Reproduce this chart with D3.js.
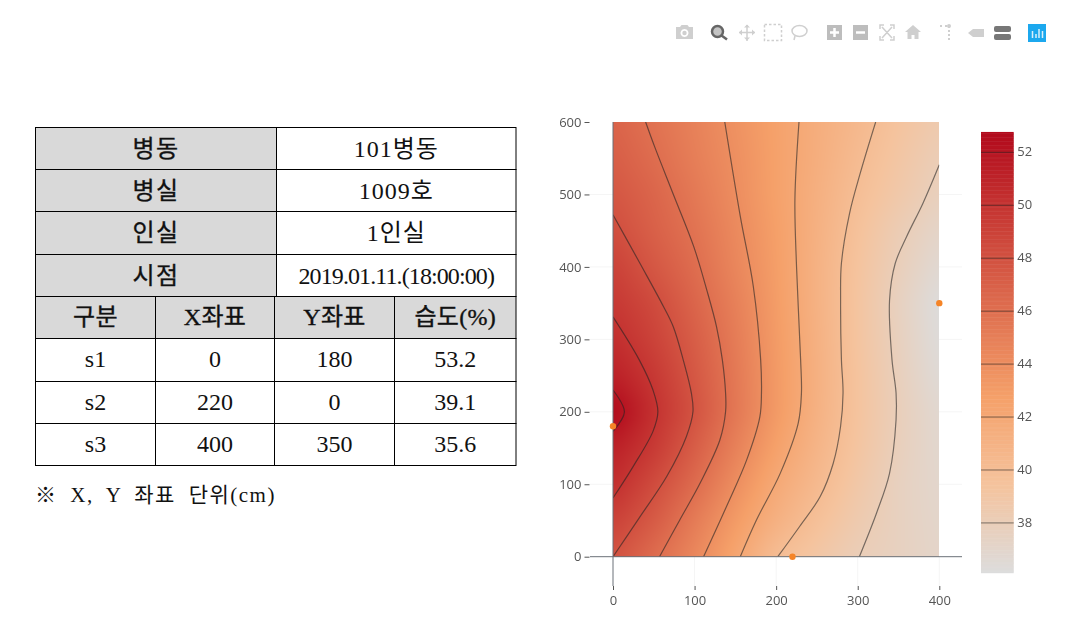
<!DOCTYPE html>
<html><head><meta charset="utf-8">
<script src="https://cdn.jsdelivr.net/npm/d3@7"></script>
<style>
html,body{margin:0;padding:0;background:#fff}
#wrap{position:relative;width:1082px;height:626px;overflow:hidden}
canvas{position:absolute;left:0;top:0}
svg{position:absolute;left:0;top:0}
</style></head><body><div id="wrap"></div>
<script>
// ---- table content ----
const infoLabels = ["병동","병실","인실","시점"];
const infoValues = ["101병동","1009호","1인실","2019.01.11.(18:00:00)"];
const sensorHeader = ["구분","X좌표","Y좌표","습도(%)"];
const sensorNames = ["s1","s2","s3"];
const sensorX = [0,220,400];
const sensorY = [180,0,350];
const sensorHumidity = ["53.2","39.1","35.6"];
const footnote = "※ X, Y 좌표 단위(cm)";

// ---- heatmap field ----
const gridX = [0,50,100,150,200,250,300,350,400];
const gridY = [0,50,100,150,200,250,300,350,400,450,500,550,600];
const gridZ = [
 [48.0,46.2,44.4,42.3,39.95,39.0,38.0,37.6,37.1],
 [49.1,47.4,45.2,43.1,41.2,39.75,38.5,37.6,37.0],
 [50.4,48.4,46.3,44.0,41.9,40.4,38.9,37.6,36.9],
 [51.3,49.6,47.2,44.85,42.65,40.85,39.25,37.8,36.8],
 [53.0,50.2,47.95,45.5,43.2,41.15,39.4,37.9,36.7],
 [51.3,49.7,47.6,45.4,43.2,41.25,39.4,37.8,36.4],
 [50.4,49.0,47.2,45.2,43.1,41.2,39.3,37.7,36.2],
 [49.7,48.5,46.7,44.9,43.0,41.1,39.3,37.6,36.1],
 [49.1,47.6,46.2,44.5,42.9,41.1,39.4,37.9,36.6],
 [48.3,47.0,45.8,44.3,42.8,41.2,39.6,38.2,37.1],
 [47.7,46.7,45.4,44.05,42.65,41.3,39.9,38.8,37.7],
 [47.2,46.2,45.0,43.9,42.65,41.45,40.2,39.1,38.05],
 [46.8,45.8,44.8,43.7,42.6,41.5,40.5,39.4,38.5]
];

// ---- contour lines, [x,y] ----
const contourLevels = [38,40,42,44,46,48,50,52];
const contour38 = [[400,541],[380,488],[360,442],[346,405],[339,354],[342,272],[347,226],[347,189],[339,115],[323,60],[302,0]];
const contour40 = [[322,600],[303,529],[290,474],[280,405],[279,354],[280,272],[282,226],[279,180],[270,129],[254,83],[229,42],[202,0]];
const contour42 = [[228,600],[223,493],[225,400],[230,272],[231,226],[227,184],[205,115],[176,51],[156,0]];
const contour44 = [[137,600],[156,470],[172,373],[181,272],[182,226],[180,193],[164,134],[139,69],[111,0]];
const contour46 = [[40,600],[51,566],[74,500],[99,428],[115,368],[127,317],[134,272],[138,226],[138,200],[131,161],[107,102],[82,51],[57,0]];
const contour48 = [[0,472],[33,405],[62,345],[74,317],[86,272],[96,226],[98,200],[90,166],[66,111],[33,55],[0,0]];
const contour50 = [[0,331],[32,272],[49,230],[55,200],[49,173],[25,125],[0,81]];
const contour52 = [[0,230],[14,200],[0,173]];
const contourLines = [contour38,contour40,contour42,contour44,contour46,contour48,contour50,contour52];

// ---- axes ----
const xTicks = [0,100,200,300,400];
const yTicks = [0,100,200,300,400,500,600];
const zMin = 36.12, zMax = 52.73;
const redsStops = [0,0.2,0.4,1];
const redsColors = ["rgb(220,220,220)","rgb(245,195,157)","rgb(245,160,105)","rgb(178,10,28)"];

const W=1082,H=626;
const wrap=d3.select("#wrap");
const x=d3.scaleLinear().domain([0,400]).range([613,939.3]);
const y=d3.scaleLinear().domain([0,600]).range([556.7,122]);
const zy=d3.scaleLinear().domain([zMin,zMax]).range([572.7,133]);
const zNorm=d3.scaleLinear().domain([zMin,zMax]).range([0,1]).clamp(true);
const ramp=d3.scaleLinear().domain(redsStops).range(redsColors).interpolate(d3.interpolateRgb);
const col=v=>ramp(zNorm(v));

const svg=wrap.append("svg").attr("width",W).attr("height",H);
const defs=svg.append("defs");
defs.append("clipPath").attr("id","plot").append("rect")
  .attr("x",x(0)).attr("y",y(600)).attr("width",x(400)-x(0)).attr("height",y(0)-y(600));
defs.append("filter").attr("id","soft").append("feGaussianBlur").attr("stdDeviation",0.35);

// ---- table ----
const serif='"Liberation Serif","Noto Sans CJK KR",serif';
const tbl=svg.append("g").attr("font-family",serif).attr("fill","#111").attr("text-anchor","middle");
const rowEdges=[127.5,169.5,211.5,254.5,296.5,338.5,381.5,423.5,465.5];
const infoEdges=[35.5,276.5,516];
const colEdges=[35.5,155.5,274.5,394.5,516];
function cell(x0,x1,y0,y1,txt,head,ls,dy){
  tbl.append("rect").attr("x",x0).attr("y",y0).attr("width",x1-x0).attr("height",y1-y0)
    .attr("fill",head?"#d9d9d9":"#fff").attr("stroke","#000").attr("stroke-width",1);
  tbl.append("text").attr("x",(x0+x1)/2).attr("y",(y0+y1)/2+dy)
    .attr("font-size",24).attr("font-weight",400)
    .attr("stroke",head?"#111":"none").attr("stroke-width",head?0.35:0)
    .attr("letter-spacing",ls||0).text(txt);
}
infoLabels.forEach((l,i)=>{
  cell(infoEdges[0],infoEdges[1],rowEdges[i],rowEdges[i+1],l,true,1.5,8);
  cell(infoEdges[1],infoEdges[2],rowEdges[i],rowEdges[i+1],infoValues[i],false,i==3?-0.9:1,8);
});
sensorHeader.forEach((h,c)=>cell(colEdges[c],colEdges[c+1],rowEdges[4],rowEdges[5],h,true,0.3,7));
sensorNames.forEach((n,r)=>{
  [n,sensorX[r],sensorY[r],sensorHumidity[r]].forEach((v,c)=>
    cell(colEdges[c],colEdges[c+1],rowEdges[5+r],rowEdges[6+r],v,false,0,7));
});
svg.append("text").attr("x",35).attr("y",502).attr("font-family",serif).attr("font-size",21)
  .attr("fill","#111").attr("letter-spacing",1.5).attr("word-spacing",6).text(footnote);

// ---- grid ----
const grid=svg.append("g").attr("stroke","#f5f5f5").attr("stroke-width",1);
grid.selectAll(".gy").data(yTicks.filter(d=>d>0&&d<600)).join("line")
  .attr("x1",590).attr("x2",962).attr("y1",d=>y(d)).attr("y2",d=>y(d));
grid.selectAll(".gx").data(xTicks.filter(d=>d>0)).join("line")
  .attr("x1",d=>x(d)).attr("x2",d=>x(d)).attr("y1",y(0)).attr("y2",586);

// ---- heatmap ----
function field(dx,dy){
  dx=Math.max(0,Math.min(400,dx)); dy=Math.max(0,Math.min(600,dy));
  const i=Math.min(gridX.length-2,d3.bisectRight(gridX,dx)-1);
  const j=Math.min(gridY.length-2,d3.bisectRight(gridY,dy)-1);
  const tx=(dx-gridX[i])/(gridX[i+1]-gridX[i]), ty=(dy-gridY[j])/(gridY[j+1]-gridY[j]);
  return (1-ty)*((1-tx)*gridZ[j][i]+tx*gridZ[j][i+1])+ty*((1-tx)*gridZ[j+1][i]+tx*gridZ[j+1][i+1]);
}
const hmW=Math.round(x(400)-x(0)), hmH=Math.round(y(0)-y(600));
const fo=svg.append("foreignObject").attr("x",Math.round(x(0))).attr("y",Math.round(y(600)))
  .attr("width",hmW).attr("height",hmH);
const hm=document.createElement("canvas");
hm.width=hmW; hm.height=hmH;
const ctx=hm.getContext("2d");
const spread=[-12,0,12];
for(let py=0;py<hmH;py++){
  for(let px=0;px<hmW;px++){
    const dx=x.invert(px+Math.round(x(0))+.5), dy=y.invert(py+Math.round(y(600))+.5);
    let s=0;
    spread.forEach(a=>spread.forEach(b=>{s+=field(dx+a,dy+b);}));
    ctx.fillStyle=col(s/9);
    ctx.fillRect(px,py,1,1);
  }
}
fo.node().appendChild(hm);

// ---- contours ----
const line=d3.line().x(d=>x(d[0])).y(d=>y(d[1])).curve(d3.curveCatmullRom.alpha(0.5));
const lineColor=v=>d3.interpolateRgb(col(v),"#222")(0.58);
svg.append("g").attr("clip-path","url(#plot)").selectAll("path").data(contourLines).join("path")
  .attr("d",line).attr("fill","none").attr("stroke",(d,i)=>lineColor(contourLevels[i])).attr("stroke-width",1.2);

// ---- zero lines ----
svg.append("line").attr("x1",x(0)).attr("x2",x(0)).attr("y1",y(600)).attr("y2",586).attr("stroke","#6b7078").attr("stroke-width",1);
svg.append("line").attr("x1",590).attr("x2",962).attr("y1",y(0)).attr("y2",y(0)).attr("stroke","#6b7078").attr("stroke-width",1);

// ---- axes ----
const axFont='"Open Sans",sans-serif';
const gy=svg.append("g").attr("transform","translate(589.5,0)")
  .call(d3.axisLeft(y).tickValues(yTicks).tickSize(5).tickPadding(3));
const gx=svg.append("g").attr("transform","translate(0,586)")
  .call(d3.axisBottom(x).tickValues(xTicks).tickSize(4).tickPadding(6));
[gx,gy].forEach(g=>{
  g.select(".domain").remove();
  g.selectAll("line").attr("stroke","#555");
  g.selectAll("text").attr("font-family",axFont).attr("font-size",13).attr("fill","#555");
});

// ---- sensors ----
svg.append("g").selectAll("circle").data(sensorX).join("circle")
  .attr("cx",d=>x(d)).attr("cy",(d,i)=>y(sensorY[i])).attr("r",3.2).attr("fill","#f58427");

// ---- colour bar ----
const barX=981,barW=32.7;
const barVals=d3.range(zMin,zMax,0.05);
svg.append("g").selectAll("rect").data(barVals).join("rect")
  .attr("x",barX).attr("width",barW).attr("y",d=>zy(d+0.05)).attr("height",d=>zy(d)-zy(d+0.05)+0.5)
  .attr("fill",d=>col(d));
svg.append("g").selectAll("line").data(contourLevels).join("line")
  .attr("x1",barX).attr("x2",barX+barW).attr("y1",d=>zy(d)).attr("y2",d=>zy(d))
  .attr("stroke",d=>lineColor(d)).attr("stroke-width",1);
const gz=svg.append("g").attr("transform",`translate(${barX+barW},-1)`)
  .call(d3.axisRight(zy).tickValues(contourLevels).tickSize(0).tickPadding(3.5));
gz.select(".domain").remove();
gz.selectAll("text").attr("font-family",axFont).attr("font-size",13).attr("fill","#555");

// ---- mode bar ----
const ic=svg.append("g").attr("filter","url(#soft)");
const g1="#cfcfcf", g2="#bdbdbd";
ic.append("path").attr("fill",g1).attr("fill-rule","evenodd")
  .attr("d","M676 27h4l1.500-2h6l1.500 2h4v12h-17zM684.500 29a4 4 0 1 0 .01 0z");
ic.append("circle").attr("cx",684.500).attr("cy",33).attr("r",2.200).attr("fill",g1);
ic.append("circle").attr("cx",717.500).attr("cy",31.500).attr("r",5.500).attr("fill","#c4c4c4").attr("stroke","#666").attr("stroke-width",2.500);
ic.append("line").attr("x1",721.500).attr("y1",35.500).attr("x2",727).attr("y2",39.500).attr("stroke","#666").attr("stroke-width",2.500);
ic.append("path").attr("stroke",g1).attr("stroke-width",1.500).attr("fill","none").attr("d","M739 32.500h16M747 25v16");
ic.append("path").attr("fill",g1).attr("d","M739 32.500l3-3v6zM755 32.500l-3-3v6zM747 24.500l-3 3h6zM747 40.500l-3-3h6z");
ic.append("rect").attr("x",764.500).attr("y",24.500).attr("width",17).attr("height",16).attr("fill","none").attr("stroke",g1).attr("stroke-width",1.500).attr("stroke-dasharray","2.500 2");
ic.append("ellipse").attr("cx",799.500).attr("cy",31).attr("rx",7.500).attr("ry",5.500).attr("fill","none").attr("stroke",g1).attr("stroke-width",1.500);
ic.append("path").attr("d","M795 36l-1 4").attr("stroke",g1).attr("stroke-width",1.500);
ic.append("rect").attr("x",827).attr("y",25).attr("width",15).attr("height",15).attr("fill",g2);
ic.append("path").attr("d","M834.500 28v9M830 32.500h9").attr("stroke","#fff").attr("stroke-width",2.500);
ic.append("rect").attr("x",853).attr("y",25).attr("width",15).attr("height",15).attr("fill",g2);
ic.append("path").attr("d","M856 32.500h9").attr("stroke","#fff").attr("stroke-width",2.500);
ic.append("path").attr("d","M880 29v-4h4M890 25h4v4M894 36v4h-4M884 40h-4v-4M882 27l10 11M892 27l-10 11").attr("stroke",g1).attr("stroke-width",1.500).attr("fill","none");
ic.append("path").attr("fill",g1).attr("d","M913 25l8 7h-2.500v7h-4v-4h-3v4h-4v-7h-2.500z");
ic.append("path").attr("d","M940 26h2M945 26h3M949 26v14").attr("stroke",g1).attr("stroke-width",2).attr("stroke-dasharray","2 2").attr("fill","none");
ic.append("circle").attr("cx",949).attr("cy",26).attr("r",2).attr("fill",g1);
ic.append("path").attr("fill",g1).attr("d","M968 33l5-4h11v8h-11z");
ic.append("rect").attr("x",994).attr("y",26).attr("width",17).attr("height",6).attr("rx",2).attr("fill","#777");
ic.append("rect").attr("x",994).attr("y",34).attr("width",17).attr("height",6).attr("rx",2).attr("fill","#777");
ic.append("rect").attr("x",1028).attr("y",24).attr("width",18).attr("height",18).attr("fill","#1fa8ee");
ic.append("path").attr("d","M1032.500 31v7M1036 34v4M1039 29v9M1042.500 31v7").attr("stroke","#d8f0fc").attr("stroke-width",1.500);
</script></body></html>
